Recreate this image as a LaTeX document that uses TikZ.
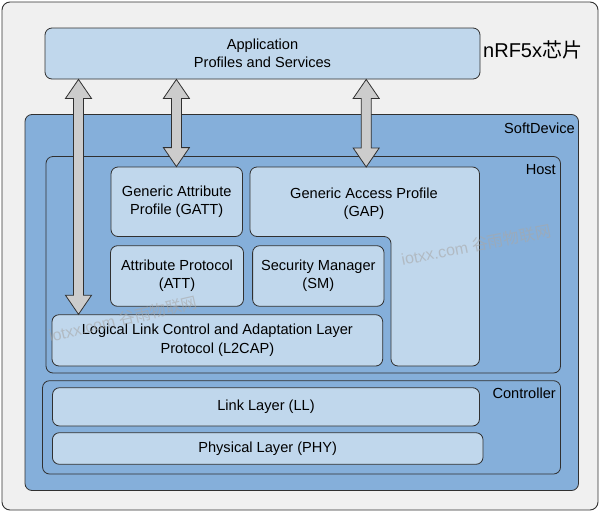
\documentclass[tikz,border=0pt]{standalone}
\usepackage{fontspec}
\setmainfont{Liberation Sans}
\newfontfamily\cjk{Noto Sans CJK SC}
\usetikzlibrary{calc}
\definecolor{framebg}{HTML}{F0F0F0}
\definecolor{midblue}{HTML}{85AFDA}
\definecolor{lightblue}{HTML}{C0D7EC}
\definecolor{edge}{HTML}{303030}
\definecolor{arrgray}{HTML}{CCCCCC}
\definecolor{wmgray}{HTML}{A8A8A8}
\tikzset{
  framebox/.style={draw=edge, line width=0.9pt, rounded corners=8pt, fill=framebg, inner sep=0pt},
  container/.style={draw=edge, line width=0.8pt, rounded corners=7pt, fill=midblue, inner sep=0pt},
  layerbox/.style={draw=edge, line width=0.8pt, rounded corners=7pt, fill=lightblue, inner sep=0pt,
    align=center, text=black, font=\fontsize{14.6}{18.3}\selectfont},
  tag/.style={font=\fontsize{14.6}{18}\selectfont, anchor=east, inner sep=0pt, text=black},
  dblarrow/.style={draw=edge, line width=0.8pt, fill=arrgray, line join=miter},
  wmark/.style={text=wmgray, opacity=.6, inner sep=0pt, font=\fontsize{16}{18}\selectfont}
}
\newcommand\twoheadbar[2]{%
  \draw[dblarrow] let \p1=(#1), \p2=(#2) in
    (\x1,\y1) -- ({\x1+13pt},{\y1-19pt}) -- ({\x1+5pt},{\y1-19pt}) --
    ({\x1+5pt},{\y2+19pt}) -- ({\x1+13pt},{\y2+19pt}) -- (\x1,\y2) --
    ({\x1-13pt},{\y2+19pt}) -- ({\x1-5pt},{\y2+19pt}) --
    ({\x1-5pt},{\y1-19pt}) -- ({\x1-13pt},{\y1-19pt}) -- cycle;}
\begin{document}
\begin{tikzpicture}[x=1pt,y=-1pt]
\useasboundingbox (0,0) rectangle (600,512);
% outer chip frame
\node[framebox, minimum width=596pt, minimum height=508pt] (chip) at (300,256) {};
% application
\node[layerbox, minimum width=435pt, minimum height=51pt] (app) at (262.5,53.5)
  {Application\\Profiles and Services};
\node[anchor=west, inner sep=0pt, font=\fontsize{20}{23}\selectfont] (chiplabel) at (483,50)
  {nRF5x{\cjk 芯片}};
% SoftDevice
\node[container, minimum width=553.5pt, minimum height=376pt] (sd) at (301.75,302.5) {};
\node[tag] (sdlabel) at (575,128) {SoftDevice};
% Host
\node[container, minimum width=514.5pt, minimum height=216.5pt] (host) at (303.25,264.75) {};
\node[tag] (hostlabel) at (556,170) {Host};
% GATT
\node[layerbox, minimum width=131.5pt, minimum height=69.5pt] (gatt) at (176.75,201.75)
  {Generic Attribute\\Profile (GATT)};
% GAP (L-shaped)
\draw[draw=edge, line width=0.8pt, fill=lightblue, rounded corners=7pt]
  (250,167) coordinate (gapnw) -- (479.5,167) -- (479.5,366) -- (391,366) -- (391,236.5) -- (250,236.5) -- cycle;
\node[align=center, inner sep=0pt, font=\fontsize{14.6}{18.3}\selectfont] (gap) at (364,203.5)
  {Generic Access Profile\\(GAP)};
% ATT and SM
\node[layerbox, minimum width=133pt, minimum height=60.6pt] (att) at (177,276)
  {Attribute Protocol\\(ATT)};
\node[layerbox, minimum width=131.4pt, minimum height=60.6pt] (sm) at (318.3,276)
  {Security Manager\\(SM)};
% L2CAP
\node[layerbox, minimum width=330.7pt, minimum height=51.3pt] (l2cap) at (217.35,340.35)
  {Logical Link Control and Adaptation Layer\\Protocol (L2CAP)};
% Controller
\node[container, minimum width=518pt, minimum height=93.3pt] (ctrl) at (301.55,427.35) {};
\node[tag] (ctrllabel) at (556,393.3) {Controller};
\node[layerbox, minimum width=427pt, minimum height=38.3pt] (ll) at (266,406.85) {Link Layer (LL)};
\node[layerbox, minimum width=430.6pt, minimum height=31.6pt] (phy) at (267.7,448.5) {Physical Layer (PHY)};
% watermarks
\node[wmark, rotate=11] (wm1) at (476,245) {iotxx.com {\cjk 谷雨物联网}};
\node[wmark, rotate=13] (wm2) at (123,319) {iotxx.com {\cjk 谷雨物联网}};
% double arrows
\coordinate (xa) at (78.5,0);
\coordinate (xb) at (176.4,0);
\coordinate (xc) at (366.2,0);
\twoheadbar{xa |- app.south}{xa |- l2cap.north}
\twoheadbar{xb |- app.south}{xb |- gatt.north}
\twoheadbar{xc |- app.south}{xc |- gapnw}
\end{tikzpicture}
\end{document}
